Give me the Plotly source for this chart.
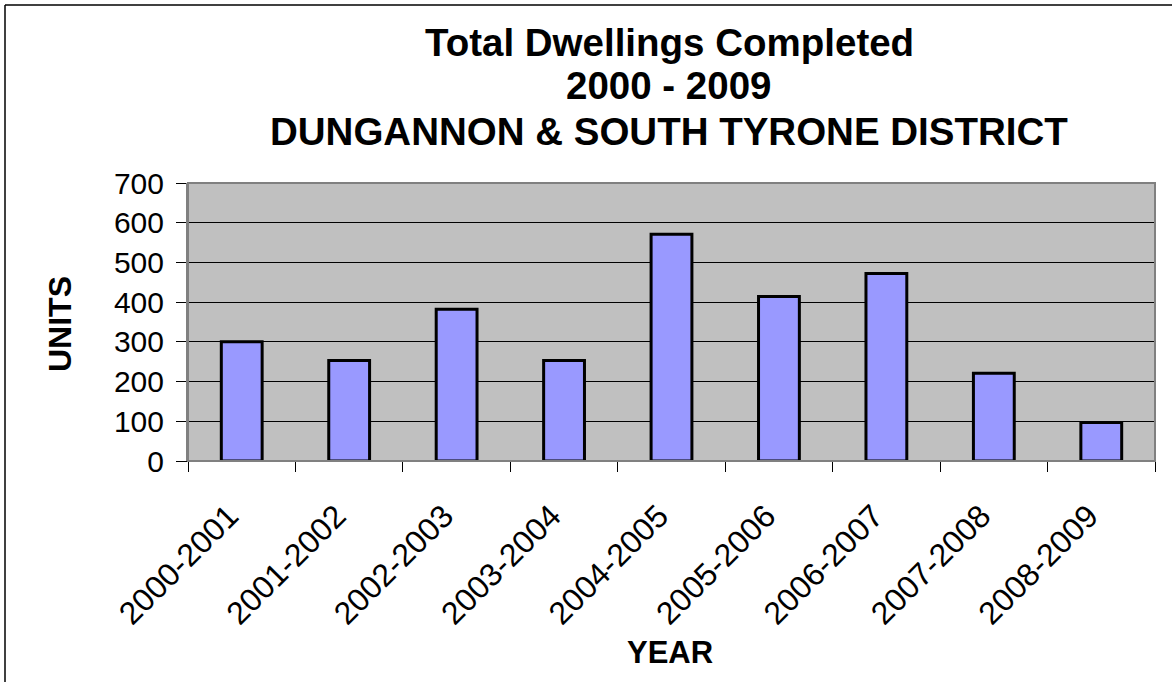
import plotly.graph_objects as go

# Dwellings completed per financial year
years = ["2000-2001", "2001-2002", "2002-2003", "2003-2004", "2004-2005",
         "2005-2006", "2006-2007", "2007-2008", "2008-2009"]
units = [300, 253, 382, 253, 571, 414, 472, 221, 97]

title_lines = ["Total Dwellings Completed", "2000 - 2009",
               "DUNGANNON & SOUTH TYRONE DISTRICT"]
y_ticks = [0, 100, 200, 300, 400, 500, 600, 700]

W, H = 1172, 682
L, R, T, B = 188, 1155, 183, 461   # plot-area edges in pixels

FONT = "Liberation Sans, Arial, sans-serif"


def px_x(x):
    return (x - L) / (R - L)


def px_y(y):
    return (B - y) / (B - T)


fig = go.Figure(
    go.Bar(
        x=years,
        y=units,
        marker=dict(color="#9999ff", line=dict(color="#000000", width=3)),
        width=0.38,
    )
)

annotations = []
for text, cy in zip(title_lines, [42, 86, 131]):
    annotations.append(dict(
        text=f"<b>{text}</b>", x=px_x(669), y=px_y(cy), xref="paper", yref="paper",
        xanchor="center", yanchor="middle", showarrow=False,
        font=dict(family=FONT, size=38.5, color="#000000"),
    ))
annotations.append(dict(
    text="<b>YEAR</b>", x=px_x(670), y=px_y(652), xref="paper", yref="paper",
    xanchor="center", yanchor="middle", showarrow=False,
    font=dict(family=FONT, size=31, color="#000000"),
))
annotations.append(dict(
    text="<b>UNITS</b>", x=px_x(60), y=px_y(324), xref="paper", yref="paper",
    xanchor="center", yanchor="middle", showarrow=False, textangle=-90,
    font=dict(family=FONT, size=32, color="#000000"),
))

fig.update_layout(
    width=W, height=H,
    margin=dict(l=L, r=W - R, t=T, b=H - B, pad=0),
    paper_bgcolor="#ffffff",
    plot_bgcolor="#c0c0c0",
    showlegend=False,
    annotations=annotations,
    shapes=[
        # chart frame (left and top edges)
        dict(type="line", xref="paper", yref="paper",
             x0=px_x(5), x1=px_x(5), y0=px_y(690), y1=px_y(5),
             line=dict(color="#000000", width=1.5)),
        dict(type="line", xref="paper", yref="paper",
             x0=px_x(5), x1=px_x(1180), y0=px_y(5), y1=px_y(5),
             line=dict(color="#000000", width=1.5)),
        # plot-area border
        dict(type="rect", xref="paper", yref="paper", x0=0, x1=1, y0=0, y1=1,
             line=dict(color="#808080", width=2), fillcolor="rgba(0,0,0,0)"),
    ],
)

fig.update_xaxes(
    type="category",
    tickangle=-45,
    tickmode="array",
    tickvals=years,
    # trailing no-break spaces nudge the slanted labels off the tick centre
    ticktext=[y + "\u00a0\u00a0" for y in years],
    tickfont=dict(family=FONT, size=32, color="#000000"),
    ticks="outside", ticklen=10, tickcolor="#000000", tickwidth=1,
    tickson="boundaries",
    ticklabelstandoff=10,
    showline=True, linecolor="#000000", linewidth=1,
    showgrid=False,
)
fig.update_yaxes(
    range=[0, 700],
    tickvals=y_ticks,
    tickfont=dict(family=FONT, size=30, color="#000000"),
    ticks="outside", ticklen=10, tickcolor="#000000", tickwidth=1,
    ticklabelstandoff=6,
    showline=True, linecolor="#808080", linewidth=2,
    showgrid=True, gridcolor="#000000", gridwidth=1,
    zeroline=False,
)

fig.write_html("out.html")
